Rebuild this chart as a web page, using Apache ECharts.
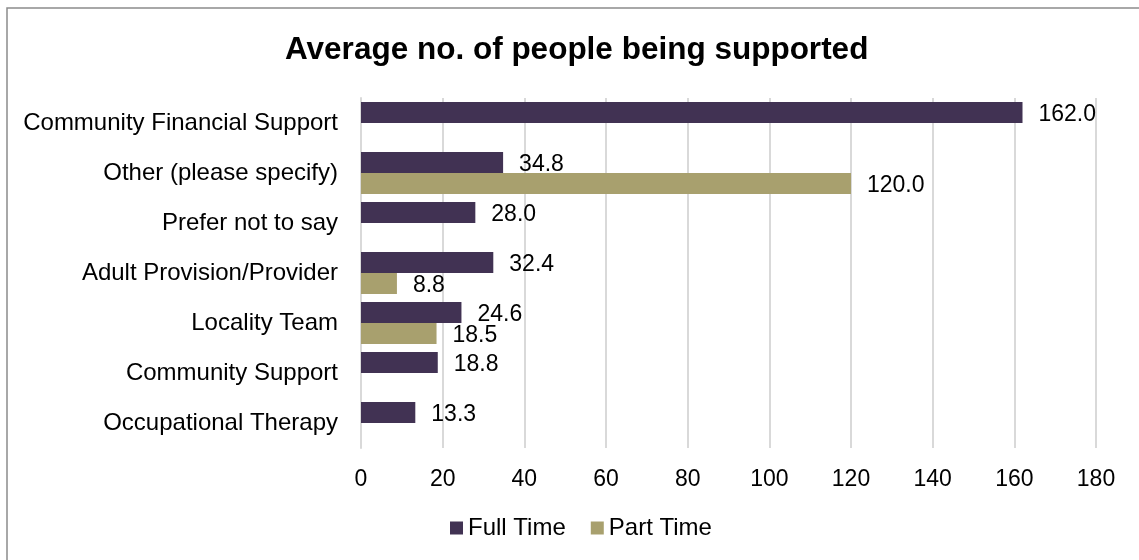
<!DOCTYPE html>
<html>
<head>
<meta charset="utf-8">
<script src="https://cdn.jsdelivr.net/npm/echarts@6/dist/echarts.min.js"></script>
<style>
  html, body { margin: 0; padding: 0; background: #fff; }
  #chart { width: 1139px; height: 560px; }
</style>
</head>
<body>
<div id="chart"></div>
<script>
// Categories, top to bottom
const categories = [
  'Community Financial Support',
  'Other (please specify)',
  'Prefer not to say',
  'Adult Provision/Provider',
  'Locality Team',
  'Community Support',
  'Occupational Therapy'
];
const fullTime = [162.0, 34.8, 28.0, 32.4, 24.6, 18.8, 13.3];
const partTime = [null, 120.0, null, 8.8, 18.5, null, null];
const seriesNames = ['Full Time', 'Part Time'];
const xTicks = { min: 0, max: 180, interval: 20 };

const FONT = '"Liberation Sans", Arial, sans-serif';
const chart = echarts.init(document.getElementById('chart'), null, { renderer: 'canvas' });

const labelStyle = {
  show: true,
  position: 'right',
  distance: 16,
  offset: [0, 2],
  color: '#000',
  fontFamily: FONT,
  fontSize: 23,
  formatter: p => (p.value == null ? '' : Number(p.value).toFixed(1))
};

chart.setOption({
  animation: false,
  backgroundColor: '#fff',
  title: {
    text: 'Average no. of people being supported',
    left: 280,
    top: 29,
    textStyle: { fontFamily: FONT, fontSize: 31.5, fontWeight: 'bold', color: '#000' }
  },
  graphic: [{
    type: 'rect',
    shape: { x: 7, y: 8, width: 1300, height: 700 },
    style: { fill: 'none', stroke: '#8c8c8c', lineWidth: 1.5 },
    silent: true
  }],
  legend: {
    bottom: 15,
    left: 445,
    itemWidth: 13,
    itemHeight: 13,
    itemGap: 25,
    icon: 'rect',
    textStyle: { fontFamily: FONT, fontSize: 24, color: '#000' },
    data: seriesNames
  },
  grid: { left: 361, right: 43, top: 98, bottom: 112, containLabel: false },
  xAxis: {
    type: 'value',
    min: xTicks.min,
    max: xTicks.max,
    interval: xTicks.interval,
    axisLine: { show: false },
    axisTick: { show: false },
    axisLabel: { fontFamily: FONT, fontSize: 23, color: '#000', margin: 20 },
    splitLine: { lineStyle: { color: '#d9d9d9', width: 2 } }
  },
  yAxis: {
    type: 'category',
    inverse: true,
    data: categories,
    axisLine: { show: true, lineStyle: { color: '#d9d9d9', width: 2 } },
    axisTick: { show: false },
    axisLabel: { fontFamily: FONT, fontSize: 24, color: '#000', margin: 23 }
  },
  series: [
    {
      name: seriesNames[0],
      type: 'bar',
      data: fullTime,
      barGap: '0%',
      barCategoryGap: '16%',
      itemStyle: { color: '#413253' },
      label: labelStyle
    },
    {
      name: seriesNames[1],
      type: 'bar',
      data: partTime,
      barGap: '0%',
      barCategoryGap: '16%',
      itemStyle: { color: '#a8a06e' },
      label: labelStyle
    }
  ]
});
</script>
</body>
</html>
